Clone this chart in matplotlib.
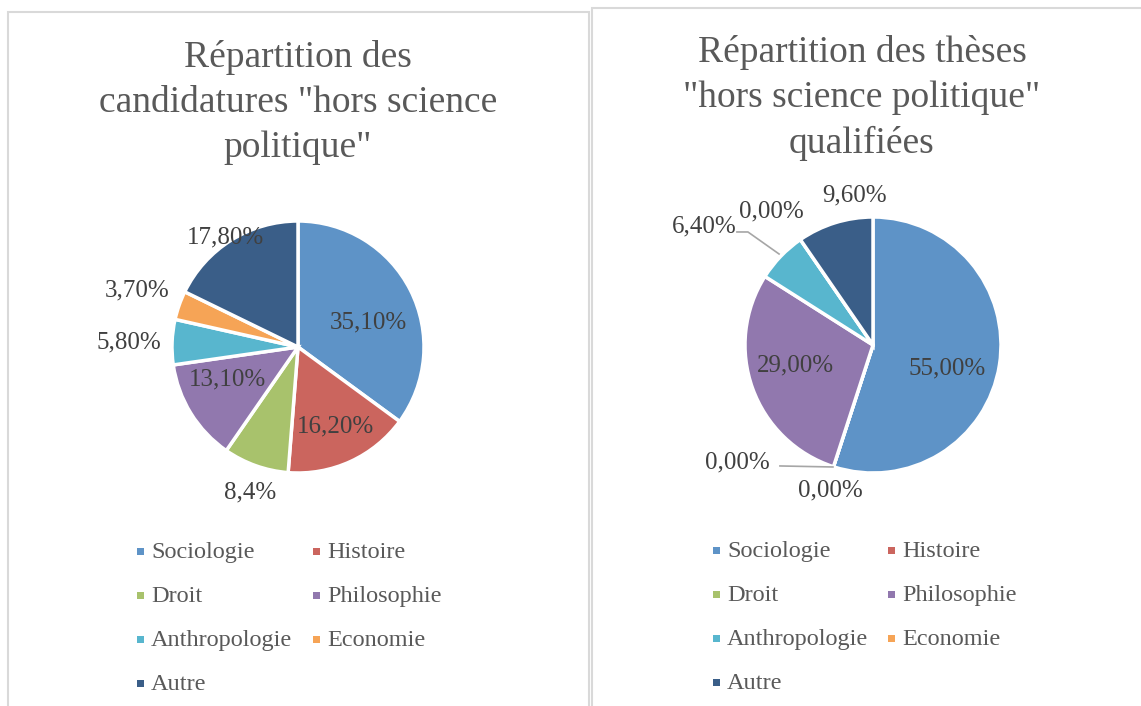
import numpy as np
import matplotlib
matplotlib.use("Agg")
import matplotlib.pyplot as plt
from matplotlib.patches import Rectangle

W, H = 1141, 706

categories = ["Sociologie", "Histoire", "Droit", "Philosophie",
              "Anthropologie", "Economie", "Autre"]
colors = ["#5E93C7", "#CB655E", "#A8C26C", "#9178AE", "#58B6CE", "#F6A456", "#3A5E88"]

candidatures = [35.1, 16.2, 8.4, 13.1, 5.8, 3.7, 17.8]
candidatures_labels = ["35,10%", "16,20%", "8,4%", "13,10%", "5,80%", "3,70%", "17,80%"]

theses = [55.0, 0.0, 0.0, 29.0, 6.4, 0.0, 9.6]
theses_labels = ["55,00%", "0,00%", "0,00%", "29,00%", "6,40%", "0,00%", "9,60%"]

title_left = 'Répartition des\ncandidatures "hors science\npolitique"'
title_right = 'Répartition des thèses\n"hors science politique"\nqualifiées'

# label placement in pie units (radius = 1)
pos_left = [(0.556, 0.198), (0.294, -0.627), (-0.381, -1.151), (-0.556, -0.254),
            (-1.341, 0.040), (-1.278, 0.452), (-0.579, 0.873)]
pos_right = [(0.578, -0.180), (-0.336, -1.133), (-1.0625, -0.914), (-0.609, -0.156),
             (-1.320, 0.930), (-0.797, 1.047), (-0.141, 1.172)]

plt.rcParams['font.family'] = ['Liberation Serif', 'DejaVu Serif']


def fx(x):
    return x / W


def fy(y):
    return 1 - y / H


fig = plt.figure(figsize=(W / 100, H / 100), dpi=100)

# panel frames
fig.patches.append(Rectangle((fx(8), fy(720)), fx(581), 708 / H, transform=fig.transFigure,
                             fill=False, edgecolor="#D9D9D9", linewidth=1.5))
fig.patches.append(Rectangle((fx(592), fy(720)), fx(600), 712 / H, transform=fig.transFigure,
                             fill=False, edgecolor="#D9D9D9", linewidth=1.5))


def draw_pie(cx, cy, r, values, labels, positions, title, tx, ty, leg_x, leg_col2, leg_y):
    L = 220
    ax = fig.add_axes([fx(cx - L), fy(cy + L), 2 * L / W, 2 * L / H])
    ax.pie(values, colors=colors, startangle=90, counterclock=False, radius=1,
           wedgeprops=dict(edgecolor="white", linewidth=2.5))
    ax.set_xlim(-L / r, L / r)
    ax.set_ylim(-L / r, L / r)
    ax.set_aspect("equal")
    ax.axis("off")
    for lab, (x, y) in zip(labels, positions):
        ax.text(x, y, lab, ha="center", va="center", fontsize=18, color="#404040")
    fig.text(fx(tx), fy(ty), title, ha="center", va="top", fontsize=27,
             color="#595959", linespacing=1.4)
    # legend, row-wise in two columns
    for i, cat in enumerate(categories):
        row, col = divmod(i, 2)
        x0 = leg_x if col == 0 else leg_col2
        y0 = leg_y + row * 44
        fig.patches.append(Rectangle((fx(x0 - 3.5), fy(y0 + 3.5)), 7 / W, 7 / H,
                                     transform=fig.transFigure, facecolor=colors[i],
                                     edgecolor="none"))
        fig.text(fx(x0 + 11), fy(y0 + 7), cat, ha="left", va="baseline", fontsize=17.5,
                 color="#595959")
    return ax


draw_pie(298, 347, 126, candidatures, candidatures_labels, pos_left, title_left,
         298, 40, 140, 316.5, 551)
ax2 = draw_pie(873, 345, 128, theses, theses_labels, pos_right, title_right,
               862, 35, 716, 891, 550)

# leader lines on the right pie
ax2.plot([-1.063, -0.977, -0.734], [0.883, 0.883, 0.711], color="#A6A6A6", linewidth=1.2)
ax2.plot([-0.727, -0.313], [-0.945, -0.953], color="#A6A6A6", linewidth=1.2)

fig.savefig("out.png", dpi=100)
